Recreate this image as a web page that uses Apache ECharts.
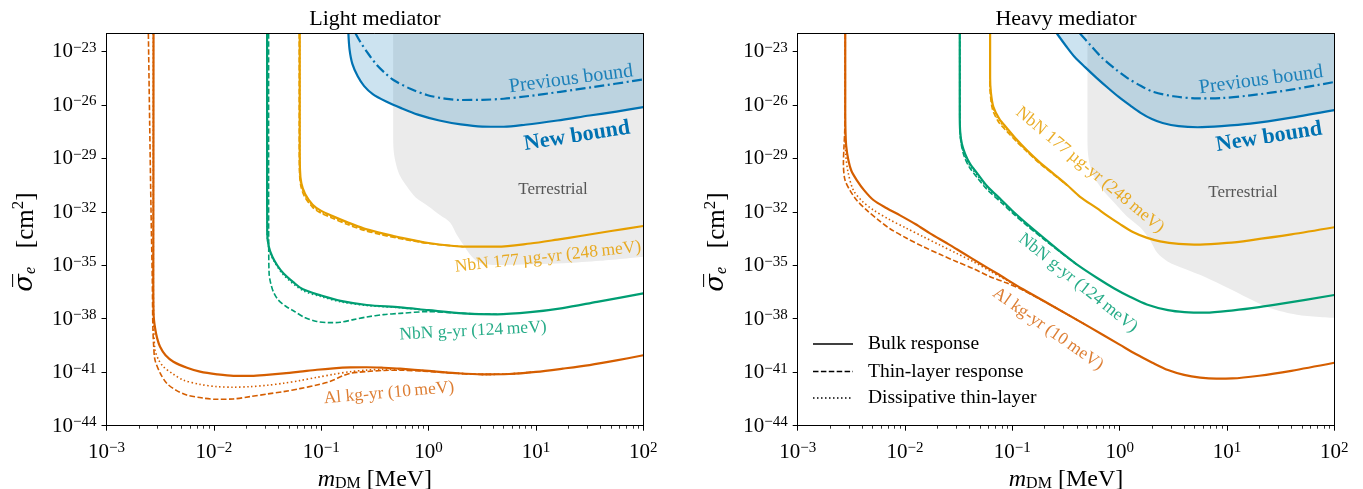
<!DOCTYPE html>
<html>
<head>
<meta charset="utf-8">
<script src="https://cdn.jsdelivr.net/npm/echarts@6/dist/echarts.min.js"></script>
<style>html,body{margin:0;padding:0;background:#fff}#c{width:1363px;height:489px}</style>
</head>
<body>
<div id="c"></div>
<script>
// All values as [log10(m_DM / MeV), log10(sigma_e / cm^2)]
const xTickExps = [-3, -2, -1, 0, 1, 2];
const yTickExps = [-44, -41, -38, -35, -32, -29, -26, -23];

// ---------- Light mediator ----------
const lightAlBulk = [[-2.562,-22],[-2.563,-30],[-2.564,-36],[-2.561,-37.8],[-2.548,-38.5],[-2.528,-39.1],[-2.501,-39.57],[-2.45,-40.05],[-2.377,-40.41],[-2.25,-40.75],[-2.129,-40.97],[-1.97,-41.12],[-1.818,-41.2],[-1.65,-41.2],[-1.507,-41.15],[-1.35,-41.07],[-1.197,-40.97],[-1.04,-40.86],[-0.886,-40.78],[-0.73,-40.73],[-0.575,-40.72],[-0.42,-40.75],[-0.265,-40.8],[0.0,-40.93],[0.25,-41.05],[0.5,-41.12],[0.75,-41.1],[1.0,-40.98],[1.25,-40.8],[1.5,-40.6],[1.75,-40.34],[2.0,-40.05]];
const lightAlThin = [[-2.61,-22],[-2.598,-27],[-2.585,-32],[-2.573,-36],[-2.568,-38.5],[-2.56,-39.6],[-2.548,-40.32],[-2.5,-41.05],[-2.439,-41.62],[-2.35,-42.02],[-2.253,-42.28],[-2.1,-42.45],[-1.973,-42.52],[-1.82,-42.5],[-1.663,-42.37],[-1.5,-42.22],[-1.352,-42.09],[-1.2,-41.92],[-1.041,-41.72],[-0.95,-41.58],[-0.886,-41.44],[-0.8,-41.2],[-0.731,-41.06],[-0.65,-41.0],[-0.575,-40.96],[-0.42,-40.9],[-0.265,-40.89],[0.0,-40.96],[0.25,-41.06],[0.5,-41.12],[0.75,-41.1],[1.0,-40.98]];
const lightAlDiss = [[-2.564,-22],[-2.564,-36],[-2.559,-38.5],[-2.548,-39.75],[-2.515,-40.3],[-2.47,-40.69],[-2.38,-41.1],[-2.284,-41.44],[-2.13,-41.68],[-1.973,-41.81],[-1.82,-41.84],[-1.663,-41.81],[-1.5,-41.73],[-1.352,-41.62],[-1.2,-41.47],[-1.041,-41.29],[-0.886,-41.12],[-0.731,-40.97],[-0.575,-40.88],[-0.42,-40.84],[-0.2,-40.86],[0.0,-40.93],[0.25,-41.05],[0.5,-41.12],[0.75,-41.1],[1.0,-40.98]];

const lightNbNgBulk = [[-1.504,-22],[-1.504,-30],[-1.503,-33.2],[-1.488,-33.96],[-1.455,-34.52],[-1.41,-35.0],[-1.353,-35.45],[-1.26,-35.95],[-1.17,-36.35],[-1.0,-36.7],[-0.82,-37.0],[-0.575,-37.23],[-0.265,-37.36],[0.0,-37.52],[0.325,-37.7],[0.637,-37.75],[0.947,-37.63],[1.25,-37.4],[1.569,-37.05],[1.8,-36.8],[2.0,-36.58]];
const lightNbNgThin = [[-1.49,-22],[-1.49,-30],[-1.489,-34],[-1.485,-35.5],[-1.47,-36.02],[-1.445,-36.5],[-1.4,-36.95],[-1.33,-37.3],[-1.259,-37.55],[-1.154,-37.93],[-1.041,-38.15],[-0.93,-38.22],[-0.824,-38.2],[-0.7,-38.05],[-0.575,-37.9],[-0.42,-37.77],[-0.265,-37.7],[0.0,-37.6],[0.325,-37.7],[0.637,-37.75]];
const lightNbNgDiss = [[-1.503,-22],[-1.503,-33.3],[-1.485,-34.1],[-1.45,-34.65],[-1.35,-35.55],[-1.17,-36.42],[-1.0,-36.76],[-0.82,-37.05],[-0.575,-37.26],[-0.265,-37.38],[0.0,-37.53]];

const lightNbN177Bulk = [[-1.2,-22],[-1.2,-28],[-1.198,-29.6],[-1.185,-30.4],[-1.15,-31.0],[-1.08,-31.6],[-1.0,-31.95],[-0.9,-32.23],[-0.76,-32.58],[-0.607,-32.93],[-0.45,-33.18],[-0.296,-33.4],[0.0,-33.75],[0.325,-33.95],[0.637,-33.96],[0.947,-33.78],[1.2,-33.56],[1.413,-33.36],[1.7,-33.08],[2.0,-32.8]];
const lightNbN177Thin = [[-1.205,-22],[-1.205,-28],[-1.203,-29.7],[-1.19,-30.55],[-1.155,-31.15],[-1.08,-31.75],[-1.0,-32.08],[-0.9,-32.35],[-0.76,-32.7],[-0.607,-33.03],[-0.45,-33.27],[-0.296,-33.47],[0.0,-33.78],[0.325,-33.96]];
const lightNbN177Diss = [[-1.2,-22],[-1.2,-28],[-1.2,-29.65],[-1.188,-30.47],[-1.152,-31.07],[-1.08,-31.68],[-1.0,-32.02],[-0.9,-32.29],[-0.76,-32.64],[-0.607,-32.98],[-0.45,-33.22],[-0.296,-33.43],[0.0,-33.76]];

const lightNewBound = [[-0.747,-22],[-0.736,-22.9],[-0.71,-23.7],[-0.66,-24.4],[-0.6,-24.95],[-0.52,-25.4],[-0.4,-25.8],[-0.25,-26.2],[-0.1,-26.55],[0.1,-26.88],[0.3,-27.1],[0.5,-27.22],[0.7,-27.23],[0.9,-27.12],[1.2,-26.88],[1.5,-26.6],[1.75,-26.38],[2.0,-26.13]];
const lightPrevBound = [[-0.68,-22],[-0.637,-22.46],[-0.56,-23.15],[-0.482,-23.77],[-0.4,-24.25],[-0.327,-24.61],[-0.17,-25.1],[-0.016,-25.45],[0.15,-25.65],[0.294,-25.73],[0.5,-25.72],[0.7,-25.66],[0.916,-25.52],[1.226,-25.27],[1.537,-25.0],[2.0,-24.58]];
const lightTerrestrial = [[-0.33,-22],[-0.33,-27.5],[-0.325,-28.6],[-0.3,-29.4],[-0.265,-30.0],[-0.2,-30.6],[-0.12,-31.2],[0.0,-31.7],[0.109,-32.2],[0.2,-32.6],[0.264,-33.3],[0.33,-33.9],[0.4,-34.5],[0.48,-34.88],[0.637,-34.99],[1.0,-34.95],[1.257,-34.89],[1.6,-34.75],[2.0,-34.52]];

// ---------- Heavy mediator ----------
const heavyAlBulk = [[-2.557,-22],[-2.557,-26],[-2.555,-27.4],[-2.548,-28.3],[-2.528,-29.1],[-2.5,-29.7],[-2.45,-30.22],[-2.38,-30.8],[-2.295,-31.34],[-2.17,-31.8],[-2.046,-32.2],[-1.9,-32.7],[-1.767,-33.21],[-1.6,-33.8],[-1.456,-34.33],[-1.3,-34.9],[-1.146,-35.45],[-0.9,-36.35],[-0.65,-37.2],[-0.3,-38.4],[0.0,-39.45],[0.15,-39.98],[0.3,-40.45],[0.45,-40.88],[0.6,-41.15],[0.75,-41.3],[0.9,-41.36],[1.05,-41.35],[1.3,-41.2],[1.6,-40.92],[2.0,-40.47]];
const heavyAlThin = [[-2.557,-22],[-2.557,-26],[-2.562,-27.5],[-2.57,-28.5],[-2.574,-29.3],[-2.56,-30.2],[-2.513,-30.8],[-2.45,-31.35],[-2.357,-31.91],[-2.25,-32.45],[-2.14,-32.95],[-1.98,-33.5],[-1.829,-33.96],[-1.67,-34.4],[-1.518,-34.8],[-1.36,-35.2],[-1.208,-35.64],[-1.05,-36.0],[-0.9,-36.4],[-0.75,-36.88],[-0.65,-37.2],[-0.3,-38.4]];
const heavyAlDiss = [[-2.557,-22],[-2.557,-27.5],[-2.552,-28.8],[-2.53,-29.8],[-2.482,-30.78],[-2.4,-31.4],[-2.295,-31.9],[-2.15,-32.42],[-1.985,-32.93],[-1.83,-33.4],[-1.674,-33.87],[-1.52,-34.33],[-1.363,-34.8],[-1.2,-35.35],[-1.05,-35.85],[-0.9,-36.37],[-0.65,-37.2],[-0.3,-38.4]];

const heavyNbNgBulk = [[-1.49,-22],[-1.49,-26.5],[-1.486,-27.5],[-1.47,-28.2],[-1.44,-28.75],[-1.395,-29.3],[-1.32,-29.9],[-1.236,-30.55],[-1.1,-31.35],[-0.99,-32.0],[-0.85,-32.75],[-0.711,-33.45],[-0.55,-34.25],[-0.4,-34.95],[-0.213,-35.7],[-0.05,-36.3],[0.1,-36.78],[0.253,-37.2],[0.45,-37.52],[0.604,-37.63],[0.8,-37.66],[1.06,-37.53],[1.3,-37.35],[1.526,-37.14],[2.0,-36.67]];
const heavyNbNgThin = [[-1.49,-22],[-1.49,-26.5],[-1.487,-27.6],[-1.472,-28.35],[-1.445,-28.95],[-1.4,-29.5],[-1.325,-30.1],[-1.24,-30.72],[-1.1,-31.5],[-0.99,-32.12],[-0.85,-32.85],[-0.711,-33.52],[-0.55,-34.28],[-0.4,-34.96]];
const heavyNbNgDiss = [[-1.49,-22],[-1.49,-26.5],[-1.486,-27.55],[-1.471,-28.28],[-1.442,-28.85],[-1.397,-29.4],[-1.322,-30.0],[-1.238,-30.63],[-1.1,-31.42],[-0.99,-32.06],[-0.85,-32.8],[-0.711,-33.48],[-0.55,-34.26],[-0.4,-34.95]];

const heavyNbN177Bulk = [[-1.207,-22],[-1.207,-24.5],[-1.2,-25.3],[-1.177,-26.11],[-1.12,-26.8],[-1.052,-27.3],[-0.96,-27.95],[-0.866,-28.54],[-0.75,-29.2],[-0.618,-29.86],[-0.49,-30.5],[-0.369,-31.16],[-0.213,-31.8],[-0.12,-32.2],[0.0,-32.68],[0.128,-33.15],[0.25,-33.45],[0.376,-33.66],[0.55,-33.8],[0.75,-33.84],[1.0,-33.75],[1.215,-33.6],[1.6,-33.27],[2.0,-32.87]];
const heavyNbN177Thin = [[-1.21,-22],[-1.21,-24.5],[-1.205,-25.4],[-1.185,-26.25],[-1.13,-26.95],[-1.06,-27.43],[-0.96,-28.07],[-0.866,-28.62],[-0.75,-29.26],[-0.618,-29.9],[-0.49,-30.52]];
const heavyNbN177Diss = [[-1.207,-22],[-1.207,-24.5],[-1.202,-25.35],[-1.18,-26.18],[-1.125,-26.88],[-1.056,-27.37],[-0.96,-28.01],[-0.866,-28.58],[-0.75,-29.23],[-0.618,-29.88],[-0.49,-30.51]];

const heavyNewBound = [[-0.585,-22],[-0.5,-22.7],[-0.419,-23.32],[-0.32,-23.9],[-0.213,-24.5],[-0.1,-25.1],[-0.009,-25.56],[0.1,-26.05],[0.195,-26.45],[0.3,-26.8],[0.4,-27.02],[0.55,-27.2],[0.726,-27.26],[0.95,-27.2],[1.217,-27.06],[1.6,-26.72],[2.0,-26.3]];
const heavyPrevBound = [[-0.37,-22],[-0.28,-22.6],[-0.174,-23.3],[-0.05,-23.95],[0.073,-24.5],[0.2,-24.95],[0.318,-25.28],[0.5,-25.52],[0.726,-25.64],[0.95,-25.62],[1.217,-25.47],[1.6,-25.15],[2.0,-24.72]];
const heavyTerrestrial = [[-0.3,-22],[-0.3,-28.0],[-0.29,-29.0],[-0.25,-29.9],[-0.174,-30.65],[-0.05,-31.5],[0.066,-32.25],[0.195,-32.9],[0.283,-33.6],[0.35,-34.3],[0.45,-34.8],[0.604,-35.2],[0.8,-35.67],[1.0,-36.25],[1.2,-36.85],[1.4,-37.4],[1.65,-37.77],[2.0,-37.95]];

// ---------- styling ----------
const FONT = 'Liberation Serif';
const C_AL = '#D55E00', C_G = '#009E73', C_O = '#E69F00', C_B = '#0072B2';
const minorX = [];
for (let k = -3; k < 2; k++) for (let m = 2; m <= 9; m++) minorX.push(k + Math.log10(m));

function tickFmt(v) {
  const e = Math.round(v);
  return '{b|10}{s|' + (e < 0 ? '\u2212' : '') + Math.abs(e) + '}';
}
const tickRich = {
  b: {fontSize: 21, lineHeight: 22, verticalAlign: 'bottom', fontFamily: FONT, color: '#000'},
  s: {fontSize: 15, lineHeight: 12, verticalAlign: 'top', fontFamily: FONT, color: '#000'}
};
const blackLine = {color: '#000', width: 1};

const grids = [
  {left: 106.5, top: 33.5, width: 536.8, height: 392.2, containLabel: false, outerBoundsMode: 'none'},
  {left: 797.7, top: 33.5, width: 536.6, height: 392.2, containLabel: false, outerBoundsMode: 'none'}
];

const xAxes = [], yAxes = [];
for (let g = 0; g < 2; g++) {
  xAxes.push({
    type: 'value', gridIndex: g, position: 'bottom', min: -3, max: 2, interval: 1, z: 5,
    axisLine: {show: true, onZero: false, lineStyle: blackLine},
    axisTick: {show: true, length: 5, customValues: xTickExps, lineStyle: blackLine},
    axisLabel: {show: true, customValues: xTickExps, formatter: tickFmt, rich: tickRich, margin: 15},
    splitLine: {show: false},
    name: '{i|m}{sub|DM}{n| [MeV]}', nameLocation: 'middle', nameGap: 39,
    nameTextStyle: {fontFamily: FONT, color: '#000', rich: {
      i: {fontSize: 24, fontStyle: 'italic', lineHeight: 26, verticalAlign: 'bottom', fontFamily: FONT, color: '#000'},
      sub: {fontSize: 16, lineHeight: 12, verticalAlign: 'bottom', fontFamily: FONT, color: '#000'},
      n: {fontSize: 24, lineHeight: 26, verticalAlign: 'bottom', fontFamily: FONT, color: '#000'}
    }}
  });
  xAxes.push({
    type: 'value', gridIndex: g, position: 'bottom', min: -3, max: 2, z: 5,
    axisLine: {show: false, onZero: false},
    axisTick: {show: true, length: 3, customValues: minorX, lineStyle: {color: '#000', width: 0.8}},
    axisLabel: {show: false}, splitLine: {show: false}
  });
  xAxes.push({
    type: 'value', gridIndex: g, position: 'top', min: -3, max: 2, z: 5,
    axisLine: {show: true, onZero: false, lineStyle: blackLine},
    axisTick: {show: false}, axisLabel: {show: false}, splitLine: {show: false}
  });
  yAxes.push({
    type: 'value', gridIndex: g, position: 'left', min: -44, max: -22, interval: 3, z: 5,
    axisLine: {show: true, onZero: false, lineStyle: blackLine},
    axisTick: {show: true, length: 5, customValues: yTickExps, lineStyle: blackLine},
    axisLabel: {show: true, customValues: yTickExps, formatter: tickFmt, rich: tickRich, margin: 10},
    splitLine: {show: false},
    name: '{s|\u03c3\u0305}{sub|e}{n|   [cm}{sup|2}{n|]}{n|\u2003}', nameLocation: 'middle', nameGap: 68, nameRotate: 90,
    nameTextStyle: {fontFamily: FONT, color: '#000', rich: {
      s: {fontSize: 26, fontStyle: 'italic', lineHeight: 28, verticalAlign: 'bottom', fontFamily: 'DejaVu Serif', color: '#000'},
      sub: {fontSize: 16, fontStyle: 'italic', lineHeight: 12, verticalAlign: 'bottom', fontFamily: FONT, color: '#000'},
      n: {fontSize: 25, lineHeight: 28, verticalAlign: 'bottom', fontFamily: FONT, color: '#000'},
      sup: {fontSize: 17, lineHeight: 14, verticalAlign: 'top', fontFamily: FONT, color: '#000'}
    }}
  });
  yAxes.push({
    type: 'value', gridIndex: g, position: 'right', min: -44, max: -22, z: 5,
    axisLine: {show: true, onZero: false, lineStyle: blackLine},
    axisTick: {show: false}, axisLabel: {show: false}, splitLine: {show: false}
  });
}

const DASH = {solid: 'solid', dashed: [5.5, 2.4], dotted: [1.5, 2.5], dashdot: [10, 3.5, 2, 3.5]};
function curve(data, g, color, kind, width, z) {
  return {
    type: 'line', xAxisIndex: g * 3, yAxisIndex: g * 2, data: data, symbol: 'none', showSymbol: false,
    smooth: 0.3, silent: true, clip: true, z: z || 3, animation: false,
    lineStyle: {color: color, width: width, type: DASH[kind], cap: 'butt', join: 'round'},
    emphasis: {disabled: true}
  };
}
function region(data, g, fill, lineColor, lineWidth, z) {
  const s = curve(data, g, lineColor || fill, 'solid', lineWidth || 0, z);
  s.areaStyle = {color: fill, origin: 'end', opacity: 1};
  return s;
}

const series = [];
const panels = [
  {terr: lightTerrestrial, nb: lightNewBound, pb: lightPrevBound,
   al: [lightAlBulk, lightAlThin, lightAlDiss], g1: [lightNbNgBulk, lightNbNgThin, lightNbNgDiss], o: [lightNbN177Bulk, lightNbN177Thin, lightNbN177Diss]},
  {terr: heavyTerrestrial, nb: heavyNewBound, pb: heavyPrevBound,
   al: [heavyAlBulk, heavyAlThin, heavyAlDiss], g1: [heavyNbNgBulk, heavyNbNgThin, heavyNbNgDiss], o: [heavyNbN177Bulk, heavyNbN177Thin, heavyNbN177Diss]}
];
panels.forEach((p, g) => {
  series.push(region(p.terr, g, '#EBEBEB', '#EBEBEB', 0, 1));
  series.push(region(p.nb, g, 'rgba(0,114,178,0.2)', C_B, 2.2, 2));
  series.push(curve(p.pb, g, C_B, 'dashdot', 2.2, 3));
  [[p.o, C_O], [p.g1, C_G], [p.al, C_AL]].forEach(([set, col]) => {
    series.push(curve(set[1], g, col, 'dashed', 1.6, 3));
    series.push(curve(set[2], g, col, 'dotted', 1.6, 3));
    series.push(curve(set[0], g, col, 'solid', 2.2, 4));
  });
});

// ---------- text labels & legend ----------
function txt(t, x, y, rotDeg, color, size, weight, align) {
  return {
    type: 'text', x: x, y: y, rotation: (rotDeg || 0) * Math.PI / 180, z: 100, silent: true,
    style: {text: t, fill: color, fontSize: size, fontFamily: FONT, fontWeight: weight || 'normal',
            align: align || 'center', textAlign: align || 'center', verticalAlign: 'middle', textVerticalAlign: 'middle'}
  };
}
const lblB = 'rgba(0,114,178,0.85)', lblO = 'rgba(230,159,0,0.85)', lblG = 'rgba(0,158,115,0.85)', lblA = 'rgba(213,94,0,0.8)';
const graphics = [
  txt('Light mediator', 375, 19, 0, '#000', 22),
  txt('Heavy mediator', 1066, 19, 0, '#000', 22),
  txt('Previous bound', 571, 79, 7.4, lblB, 20),
  txt('New bound', 577, 136, 9, C_B, 22, 'bold'),
  txt('Terrestrial', 553, 190, 0, '#555', 17),
  txt('NbN 177\u2009\u00b5g-yr (248\u2009meV)', 548, 257, 6.2, lblO, 17.5),
  txt('NbN g-yr (124\u2009meV)', 473, 331, 3, lblG, 17.5),
  txt('Al kg-yr (10\u2009meV)', 389, 393, 5, lblA, 17.5),
  txt('Previous bound', 1261, 80, 7.5, lblB, 20),
  txt('New bound', 1269, 137, 9, C_B, 22, 'bold'),
  txt('Terrestrial', 1243, 193, 0, '#555', 17),
  txt('NbN 177\u2009\u00b5g-yr (248\u2009meV)', 1090, 170, -39.7, lblO, 17.5),
  txt('NbN g-yr (124\u2009meV)', 1078, 283, -38.8, lblG, 17.5),
  txt('Al kg-yr (10\u2009meV)', 1048, 329, -35, lblA, 17.5)
];
const legendItems = [['Bulk response', null, 344], ['Thin-layer response', [5.5, 2.4], 371.5], ['Dissipative thin-layer', [1.5, 2.5], 398]];
legendItems.forEach(([label, dash, y]) => {
  graphics.push({type: 'line', z: 100, silent: true, shape: {x1: 813, y1: y, x2: 853, y2: y},
    style: {stroke: '#000', lineWidth: 1.6, lineDash: dash || null}});
  graphics.push(txt(label, 868, y, 0, '#000', 19.5, 'normal', 'left'));
});

const chart = echarts.init(document.getElementById('c'), null, {renderer: 'canvas'});
chart.setOption({
  animation: false,
  backgroundColor: '#fff',
  textStyle: {fontFamily: FONT},
  grid: grids,
  xAxis: xAxes,
  yAxis: yAxes,
  series: series,
  graphic: graphics
});
</script>
</body>
</html>
